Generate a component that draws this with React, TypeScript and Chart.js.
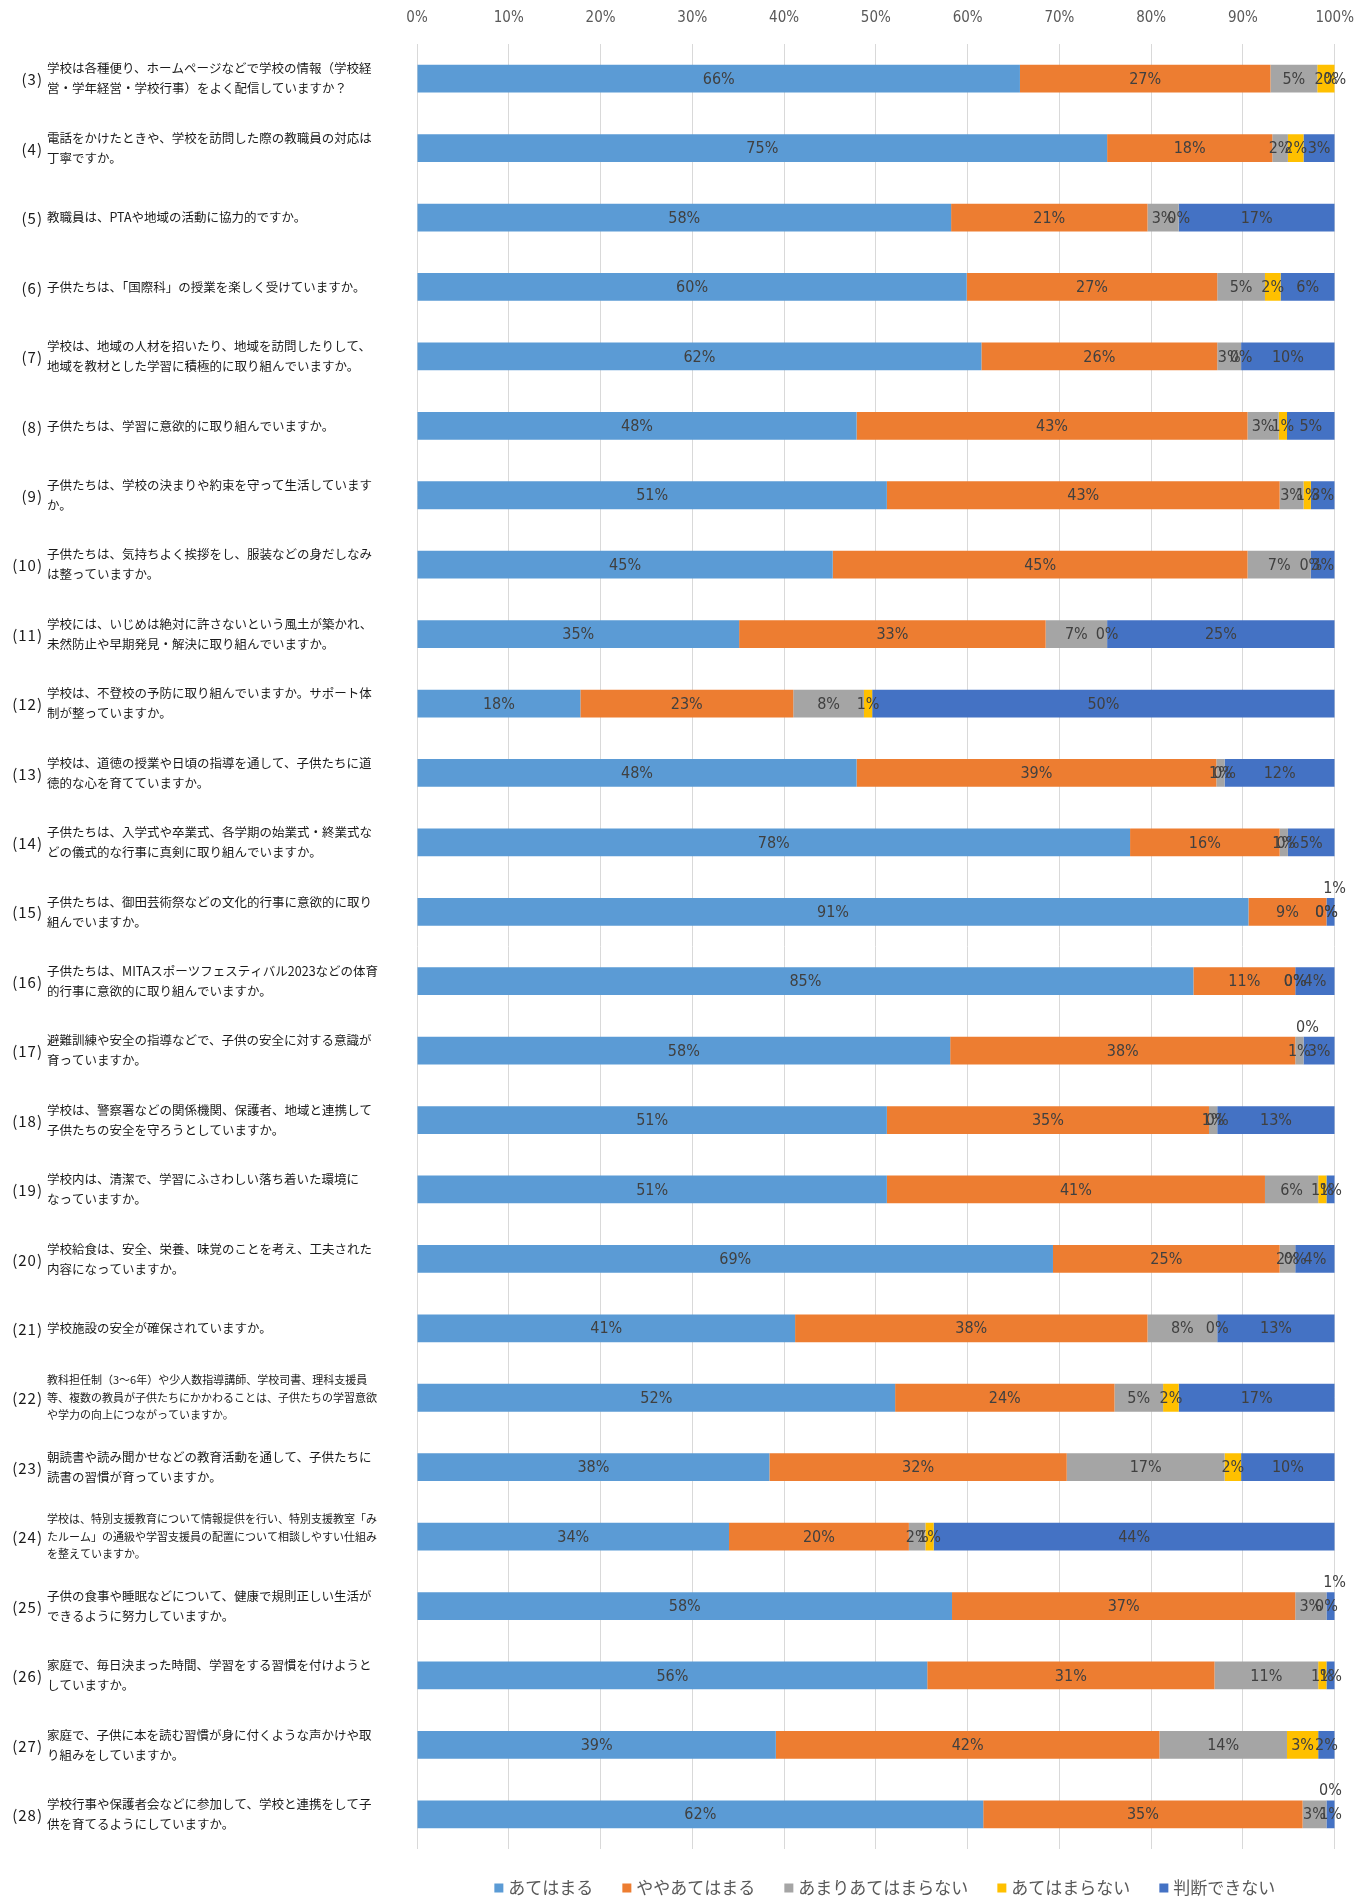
import React, { useEffect, useRef } from 'react';
import { Chart, registerables } from 'chart.js';

Chart.register(...registerables);

// ---------- data ----------
const questionNumbers = [
  '(3)', '(4)', '(5)', '(6)', '(7)', '(8)', '(9)', '(10)', '(11)', '(12)', '(13)', '(14)', '(15)',
  '(16)', '(17)', '(18)', '(19)', '(20)', '(21)', '(22)', '(23)', '(24)', '(25)', '(26)', '(27)', '(28)',
];

const questionLines: string[][] = [
  ['学校は各種便り、ホームページなどで学校の情報（学校経', '営・学年経営・学校行事）をよく配信していますか？'],
  ['電話をかけたときや、学校を訪問した際の教職員の対応は', '丁寧ですか。'],
  ['教職員は、PTAや地域の活動に協力的ですか。'],
  ['子供たちは、「国際科」の授業を楽しく受けていますか。'],
  ['学校は、地域の人材を招いたり、地域を訪問したりして、', '地域を教材とした学習に積極的に取り組んでいますか。'],
  ['子供たちは、学習に意欲的に取り組んでいますか。'],
  ['子供たちは、学校の決まりや約束を守って生活しています', 'か。'],
  ['子供たちは、気持ちよく挨拶をし、服装などの身だしなみ', 'は整っていますか。'],
  ['学校には、いじめは絶対に許さないという風土が築かれ、', '未然防止や早期発見・解決に取り組んでいますか。'],
  ['学校は、不登校の予防に取り組んでいますか。サポート体', '制が整っていますか。'],
  ['学校は、道徳の授業や日頃の指導を通して、子供たちに道', '徳的な心を育てていますか。'],
  ['子供たちは、入学式や卒業式、各学期の始業式・終業式な', 'どの儀式的な行事に真剣に取り組んでいますか。'],
  ['子供たちは、御田芸術祭などの文化的行事に意欲的に取り', '組んでいますか。'],
  ['子供たちは、MITAスポーツフェスティバル2023などの体育', '的行事に意欲的に取り組んでいますか。'],
  ['避難訓練や安全の指導などで、子供の安全に対する意識が', '育っていますか。'],
  ['学校は、警察署などの関係機関、保護者、地域と連携して', '子供たちの安全を守ろうとしていますか。'],
  ['学校内は、清潔で、学習にふさわしい落ち着いた環境に', 'なっていますか。'],
  ['学校給食は、安全、栄養、味覚のことを考え、工夫された', '内容になっていますか。'],
  ['学校施設の安全が確保されていますか。'],
  ['教科担任制（3～6年）や少人数指導講師、学校司書、理科支援員', '等、複数の教員が子供たちにかかわることは、子供たちの学習意欲', 'や学力の向上につながっていますか。'],
  ['朝読書や読み聞かせなどの教育活動を通して、子供たちに', '読書の習慣が育っていますか。'],
  ['学校は、特別支援教育について情報提供を行い、特別支援教室「み', 'たルーム」の通級や学習支援員の配置について相談しやすい仕組み', 'を整えていますか。'],
  ['子供の食事や睡眠などについて、健康で規則正しい生活が', 'できるように努力していますか。'],
  ['家庭で、毎日決まった時間、学習をする習慣を付けようと', 'していますか。'],
  ['家庭で、子供に本を読む習慣が身に付くような声かけや取', 'り組みをしていますか。'],
  ['学校行事や保護者会などに参加して、学校と連携をして子', '供を育てるようにしていますか。'],
];

const seriesNames = ['あてはまる', 'ややあてはまる', 'あまりあてはまらない', 'あてはまらない', '判断できない'];
const seriesColors = ['#5B9BD5', '#ED7D31', '#A5A5A5', '#FFC000', '#4472C4'];

const atehamaru = [65.7, 75.2, 58.2, 59.9, 61.5, 47.9, 51.2, 45.3, 35.1, 17.8, 47.9, 77.7, 90.6, 84.6, 58.1, 51.2, 51.2, 69.3, 41.2, 52.1, 38.4, 34.0, 58.3, 55.6, 39.1, 61.7];
const yayaAtehamaru = [27.3, 18.0, 21.4, 27.3, 25.7, 42.6, 42.8, 45.2, 33.4, 23.2, 39.2, 16.3, 8.5, 11.1, 37.6, 35.1, 41.2, 24.7, 38.4, 23.9, 32.4, 19.6, 37.4, 31.3, 41.8, 34.8];
const amariAtehamaranai = [5.1, 1.7, 3.4, 5.2, 2.6, 3.4, 2.6, 6.9, 6.7, 7.7, 0.9, 0.9, 0, 0, 0.9, 0.9, 5.8, 1.7, 7.6, 5.3, 17.2, 1.8, 3.4, 11.3, 13.9, 2.6];
const atehamaranai = [1.9, 1.7, 0, 1.7, 0, 0.9, 0.8, 0, 0, 0.9, 0, 0, 0, 0, 0, 0, 0.9, 0, 0, 1.7, 1.8, 0.9, 0, 0.9, 3.4, 0];
const handanDekinai = [0, 3.4, 17.0, 5.9, 10.2, 5.2, 2.6, 2.6, 24.8, 50.4, 12.0, 5.1, 0.9, 4.3, 3.4, 12.8, 0.9, 4.3, 12.8, 17.0, 10.2, 43.7, 0.9, 0.9, 1.8, 0.9];

const xTickValues = [0, 10, 20, 30, 40, 50, 60, 70, 80, 90, 100];

// labels drawn above the bar instead of inside it: [row index, series index]
const raisedLabels: [number, number][] = [[12, 4], [14, 3], [22, 4], [25, 3]];

const seriesValues = [atehamaru, yayaAtehamaru, amariAtehamaranai, atehamaranai, handanDekinai];

const NUM_FONT = '"DejaVu Sans Condensed", "DejaVu Sans", sans-serif';
const JP_FONT = '"Noto Sans CJK JP", sans-serif';

const labelsPlugin = {
  id: 'customLabels',
  afterDatasetsDraw(chart: any) {
    const ctx = chart.ctx;
    ctx.save();
    ctx.font = `16px ${NUM_FONT}`;
    ctx.fillStyle = '#404040';
    ctx.textAlign = 'center';
    ctx.textBaseline = 'middle';
    chart.data.datasets.forEach((ds: any, di: number) => {
      const meta = chart.getDatasetMeta(di);
      meta.data.forEach((el: any, i: number) => {
        const v = ds.data[i];
        const { x, y, base } = el.getProps(['x', 'y', 'base'], true);
        const cx = (x + base) / 2;
        const raised = raisedLabels.some(([r, s]) => r === i && s === di);
        ctx.fillText(Math.round(v) + '%', raised ? cx + 4 : cx, raised ? y - 23 : y + 1);
      });
    });
    ctx.restore();
  },
  afterDraw(chart: any) {
    const ctx = chart.ctx;
    const yScale = chart.scales.y;
    ctx.save();
    // question labels on the left
    questionLines.forEach((lines, i) => {
      const yc = yScale.getPixelForValue(i);
      const small = lines.length >= 3;
      const fs = small ? 11 : 12.5;
      const lh = small ? 17.5 : 20;
      ctx.fillStyle = '#1a1a1a';
      ctx.textBaseline = 'middle';
      ctx.textAlign = 'left';
      (ctx as any).letterSpacing = '0px';
      ctx.font = `${fs}px ${JP_FONT}`;
      lines.forEach((ln, k) => {
        ctx.fillText(ln, 47, yc + (k - (lines.length - 1) / 2) * lh);
      });
      ctx.font = `15px ${JP_FONT}`;
      (ctx as any).letterSpacing = '1px';
      ctx.textAlign = 'right';
      ctx.fillText(questionNumbers[i], 43, yc + 1);
      (ctx as any).letterSpacing = '0px';
    });
    // legend
    ctx.font = `17px ${JP_FONT}`;
    ctx.textBaseline = 'middle';
    ctx.textAlign = 'left';
    const box = 9;
    const gapBox = 5;
    const gapItem = 29;
    const widths = seriesNames.map((n) => ctx.measureText(n).width);
    const total = widths.reduce((a, w) => a + box + gapBox + w, 0) + gapItem * (seriesNames.length - 1);
    const center = (chart.chartArea.left + chart.chartArea.right) / 2 + 9;
    let x = center - total / 2;
    const ly = 1888;
    seriesNames.forEach((n, i) => {
      ctx.fillStyle = seriesColors[i];
      ctx.fillRect(x, ly - box / 2, box, box);
      ctx.fillStyle = '#595959';
      ctx.fillText(n, x + box + gapBox, ly);
      x += box + gapBox + widths[i] + gapItem;
    });
    ctx.restore();
  },
};

export default function App() {
  const canvasRef = useRef<HTMLCanvasElement | null>(null);

  useEffect(() => {
    document.body.style.margin = '0';
    const canvas = canvasRef.current;
    if (!canvas) return;
    const chart = new Chart(canvas, {
      type: 'bar',
      data: {
        labels: questionNumbers,
        datasets: seriesNames.map((name, i) => ({
          label: name,
          data: seriesValues[i],
          backgroundColor: seriesColors[i],
          borderWidth: 0,
          barPercentage: 0.4,
          categoryPercentage: 1,
        })),
      },
      options: {
        indexAxis: 'y',
        responsive: false,
        animation: false,
        devicePixelRatio: 1,
        layout: { padding: { left: 417, right: 34, top: 0, bottom: 52 } },
        plugins: {
          legend: { display: false },
          tooltip: { enabled: false },
        },
        scales: {
          x: {
            type: 'linear',
            position: 'top',
            stacked: true,
            min: 0,
            max: 100,
            afterBuildTicks: (scale: any) => {
              scale.ticks = xTickValues.map((v) => ({ value: v }));
            },
            afterFit: (scale: any) => {
              scale.height = 44;
            },
            ticks: {
              callback: (v: any) => v + '%',
              color: '#595959',
              font: { size: 15, family: NUM_FONT },
              padding: 17,
            },
            grid: { color: '#d9d9d9', lineWidth: 1, drawTicks: false },
            border: { display: false },
          },
          y: {
            type: 'category',
            stacked: true,
            display: false,
            grid: { display: false },
          },
        },
      },
      plugins: [labelsPlugin],
    } as any);
    return () => chart.destroy();
  }, []);

  return (
    <div style={{ width: 1371, height: 1901, overflow: 'hidden', background: '#fff' }}>
      <canvas ref={canvasRef} width={1371} height={1901} style={{ display: 'block' }} />
    </div>
  );
}
